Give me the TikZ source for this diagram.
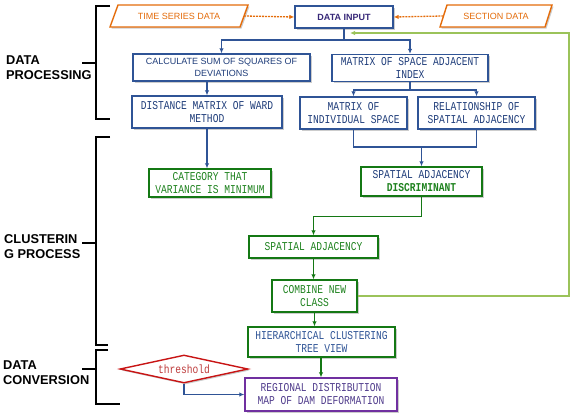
\documentclass[tikz,border=0pt]{standalone}
\usepackage{fontspec}
\setmainfont{Liberation Sans}
\newfontfamily\monof{Liberation Mono}[FakeStretch=0.8]
\usetikzlibrary{arrows.meta,shapes.geometric,shadows}
\definecolor{navy}{RGB}{31,61,122}
\definecolor{bbord}{RGB}{47,84,150}
\definecolor{gbord}{RGB}{20,120,20}
\definecolor{gtext}{RGB}{30,130,30}
\definecolor{orng}{RGB}{228,108,10}
\definecolor{lgreen}{RGB}{155,195,90}
\definecolor{redb}{RGB}{200,20,20}
\definecolor{redt}{RGB}{190,60,60}
\definecolor{purp}{RGB}{112,48,160}
\definecolor{purpt}{RGB}{80,60,140}
\definecolor{dpurp}{RGB}{55,40,120}
\tikzset{
  shad/.style={drop shadow={shadow xshift=1.5pt,shadow yshift=-1.5pt,opacity=0.4}},
  box/.style={draw, line width=1.4pt, fill=white, rectangle, inner sep=1pt, align=center, shad},
  bbox/.style={box, draw=bbord, text=navy},
  gbox/.style={box, draw=gbord, text=gtext},
  pbox/.style={box, draw=purp, text=purpt},
  sans/.style={font=\fontsize{9}{12}\selectfont},
  mono/.style={font=\monof\fontsize{12}{13}\selectfont},
  arr/.style={-{Latex[length=5pt,width=4.5pt]}},
  bl/.style={draw=bbord, line width=1.3pt},
  gl/.style={draw=gbord, line width=1.3pt},
  brk/.style={draw=black, line width=1.5pt},
  head/.style={font=\bfseries\fontsize{12.8}{15}\selectfont, align=left, anchor=west, inner sep=0pt},
  para/.style={draw=orng, line width=1.4pt, fill=white, shad},
  dsh/.style={draw=orng, line width=1.3pt, dash pattern=on 2pt off 1pt},
}
\begin{document}
\begin{tikzpicture}[x=1pt,y=-1pt]
\useasboundingbox (0,0) rectangle (572,418);
% brackets and headings
\draw[brk] (110,6) -- (96,6) -- (96,119) -- (110,119);
\draw[brk] (82,63) -- (96,63);
\draw[brk] (110,137) -- (96,137) -- (96,345) -- (108,345);
\draw[brk] (82,243) -- (96,243);
\draw[brk] (108,350) -- (96,350) -- (96,404) -- (120,404);
\draw[brk] (82,369) -- (96,369);
\node[head] (h1) at (6,68) {DATA\\PROCESSING};
\node[head] (h2) at (4,247) {CLUSTERIN\\G PROCESS};
\node[head] (h3) at (3,373) {DATA\\CONVERSION};
% input row
\draw[para] (110,27) -- (118,5) -- (248,5) -- (240,27) -- cycle;
\node[sans, text=orng, minimum width=130pt, inner sep=0pt] (ts) at (179,16) {TIME SERIES DATA};
\draw[para] (440,27) -- (447,5) -- (552,5) -- (545,27) -- cycle;
\node[sans, text=orng, minimum width=105pt, inner sep=0pt] (sec) at (496,16) {SECTION DATA};
\node[box, draw=bbord, text=dpurp, font=\bfseries\fontsize{9}{12}\selectfont, minimum width=98pt, minimum height=22pt] (din) at (344,17) {DATA INPUT};
% processing boxes
\node[bbox, sans, minimum width=177pt, minimum height=27pt] (calc) at (221.5,67.5) {CALCULATE SUM OF SQUARES OF\\DEVIATIONS};
\node[bbox, mono, minimum width=156pt, minimum height=27pt] (msai) at (410,68) {MATRIX OF SPACE ADJACENT\\INDEX};
\node[bbox, mono, minimum width=150pt, minimum height=32pt] (dist) at (207,112) {DISTANCE MATRIX OF WARD\\METHOD};
\node[bbox, mono, minimum width=107pt, minimum height=32pt] (mis) at (353.5,113) {MATRIX OF\\INDIVIDUAL SPACE};
\node[bbox, mono, minimum width=117pt, minimum height=32pt] (rel) at (476.5,113) {RELATIONSHIP OF\\SPATIAL ADJACENCY};
% clustering boxes
\node[gbox, mono, minimum width=122pt, minimum height=28pt] (cat) at (210,183) {CATEGORY THAT\\VARIANCE IS MINIMUM};
\node[gbox, mono, text=navy, minimum width=121pt, minimum height=29pt] (sad) at (421.5,181.5) {SPATIAL ADJACENCY\\\textcolor{gtext}{\bfseries DISCRIMINANT}};
\node[gbox, mono, minimum width=129pt, minimum height=22pt] (sa) at (313.5,247) {SPATIAL ADJACENCY};
\node[gbox, mono, minimum width=85pt, minimum height=32pt] (cnc) at (314.5,296) {COMBINE NEW\\CLASS};
\node[gbox, mono, text=bbord, minimum width=147pt, minimum height=30pt] (hct) at (321.5,342) {HIERARCHICAL CLUSTERING\\TREE VIEW};
% conversion
\node[pbox, mono, minimum width=152pt, minimum height=33pt] (reg) at (321,394.5) {REGIONAL DISTRIBUTION\\MAP OF DAM DEFORMATION};
\node[diamond, draw=redb, line width=1.4pt, fill=white, shad, aspect=4.6, minimum width=128pt, minimum height=28pt, inner sep=0pt, text=redt, mono] (thr) at (184,369) {threshold};
% connectors
\draw[dsh, arr] (ts.east) -- (din.west);
\draw[dsh, arr] (sec.west) -- (din.east);
\coordinate (j1) at (344,40);
\draw[bl] (din.south) -- (j1);
\draw[bl, arr] (j1) -| (calc.north);
\draw[bl, arr] (j1) -| (msai.north);
\draw[bl, arr] (calc.south -| dist.north) -- (dist.north);
\coordinate (j2) at (410,90);
\draw[bl] (msai.south) -- (j2);
\draw[bl, arr] (j2) -| (mis.north);
\draw[bl, arr] (j2) -| (rel.north);
\draw[bl, arr] (dist.south) -- (dist.south |- cat.north);
\coordinate (j3) at (421.5,147);
\draw[bl] (mis.south) |- (j3) -| (rel.south);
\draw[bl, arr] (j3) -- (sad.north);
\draw[gl, arr] (sad.south) -- ++(0,20) -| (sa.north);
\draw[gl, arr] (sa.south) -- (sa.south |- cnc.north);
\draw[gl, arr] (cnc.south) -- (cnc.south |- hct.north);
\draw[gl, arr] (hct.south -| reg.north) -- (reg.north);
\draw[bl, arr] (thr.south) |- (reg.west);
\coordinate (fb2) at (569,33);
\coordinate (fb3) at (350,33);
\draw[draw=lgreen, line width=1.4pt, arr] (cnc.east) -| (fb2) -- (fb3);
\end{tikzpicture}
\end{document}
